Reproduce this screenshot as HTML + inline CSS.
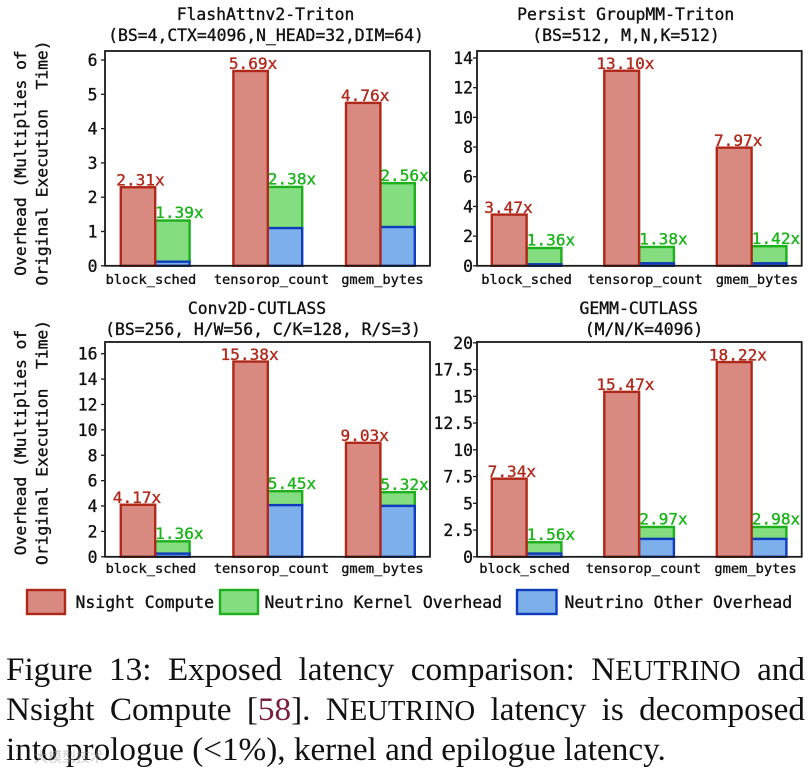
<!DOCTYPE html>
<html lang="en">
<head>
<meta charset="utf-8">
<title>Exposed latency comparison</title>
<style>
html,body{margin:0;padding:0;background:#fff;}
body{width:809px;height:772px;position:relative;overflow:hidden;}
svg{position:absolute;left:0;top:0;}
svg text{font-family:"DejaVu Sans Mono","Liberation Mono",monospace;white-space:pre;fill:#111;stroke:#111;stroke-width:.35px;}
.cap{position:absolute;left:6px;width:799px;font-family:"Liberation Serif",serif;font-size:33.2px;line-height:39px;color:#111;white-space:nowrap;}
.just{text-align:justify;text-align-last:justify;white-space:normal;}
.sc{font-size:28.6px;}
.ref{color:#7a1f3f;}
.wm{position:absolute;left:34px;top:746px;font-family:"Noto Sans CJK SC",sans-serif;font-size:14px;line-height:22px;color:rgba(150,150,150,.5);}
</style>
</head>
<body>
<svg id="chart" width="809" height="772" viewBox="0 0 809 772" xmlns="http://www.w3.org/2000/svg"></svg>
<div class="cap just" style="top:650px">Figure 13: Exposed latency comparison: N<span class="sc">EUTRINO</span> and</div>
<div class="cap just" style="top:690px">Nsight Compute [<span class="ref">58</span>]. N<span class="sc">EUTRINO</span> latency is decomposed</div>
<div class="cap" style="top:730px">into prologue (&lt;1%), kernel and epilogue latency.</div>
<div class="wm">大模型技术</div>
<script>
const categories = ['block_sched', 'tensorop_count', 'gmem_bytes'];

const flashNsight = [2.29, 5.68, 4.75];
const flashKernel = [1.20, 1.20, 1.28];
const flashOther = [0.12, 1.10, 1.13];
const flashNsightLabels = ['2.31x', '5.69x', '4.76x'];
const flashNeutrinoLabels = ['1.39x', '2.38x', '2.56x'];
const flashTicks = [0, 1, 2, 3, 4, 5, 6];
const flashTickLabels = ['0', '1', '2', '3', '4', '5', '6'];

const persistNsight = [3.45, 13.14, 7.96];
const persistKernel = [1.10, 1.10, 1.15];
const persistOther = [0.10, 0.17, 0.17];
const persistNsightLabels = ['3.47x', '13.10x', '7.97x'];
const persistNeutrinoLabels = ['1.36x', '1.38x', '1.42x'];
const persistTicks = [0, 2, 4, 6, 8, 10, 12, 14];
const persistTickLabels = ['0', '2', '4', '6', '8', '10', '12', '14'];

const convNsight = [4.10, 15.38, 8.98];
const convKernel = [0.97, 1.10, 1.08];
const convOther = [0.25, 4.07, 4.01];
const convNsightLabels = ['4.17x', '15.38x', '9.03x'];
const convNeutrinoLabels = ['1.36x', '5.45x', '5.32x'];
const convTicks = [0, 2, 4, 6, 8, 10, 12, 14, 16];
const convTickLabels = ['0', '2', '4', '6', '8', '10', '12', '14', '16'];

const gemmNsight = [7.30, 15.42, 18.20];
const gemmKernel = [1.06, 1.12, 1.12];
const gemmOther = [0.30, 1.67, 1.67];
const gemmNsightLabels = ['7.34x', '15.47x', '18.22x'];
const gemmNeutrinoLabels = ['1.56x', '2.97x', '2.98x'];
const gemmTicks = [0, 2.5, 5, 7.5, 10, 12.5, 15, 17.5, 20];
const gemmTickLabels = ['0', '2.5', '5', '7.5', '10', '12.5', '15', '17.5', '20'];

const legendLabels = ['Nsight Compute', 'Neutrino Kernel Overhead', 'Neutrino Other Overhead'];

const COLORS = {
  nsightFill: '#d98a80', nsightEdge: '#b0281a',
  kernelFill: '#84dd80', kernelEdge: '#1cb01c',
  otherFill: '#7db0ea', otherEdge: '#0f3cbc',
  nsightText: '#b0281a', kernelText: '#18b418'
};

const svg = document.getElementById('chart');
const NS = 'http://www.w3.org/2000/svg';
const EDGE = 2.4;

function mk(tag, attrs, parent) {
  const el = document.createElementNS(NS, tag);
  for (const k in attrs) el.setAttribute(k, attrs[k]);
  parent.appendChild(el);
  return el;
}

function drawPanel(p) {
  const g = mk('g', {}, svg);
  
  

  const yScale = v => p.y0 - (v / p.yMax) * (p.y0 - p.yTopTick);
  const xScale = i => p.firstBar + i * p.step;
  const bw = p.barWidth;

  // titles
  p.title.forEach((line, i) => {
    const t = mk('text', {x: p.titleX[i], y: p.titleY[i], 'text-anchor': 'middle', 'font-size': 16.4}, g);
    t.textContent = line;
    
    
  });

  // y axis title
  if (p.yTitle) {
    p.yTitle.forEach((line, i) => {
      const bx = p.yTitleX[i];
      const t = mk('text', {x: bx, y: p.yTitleY, 'text-anchor': 'middle', 'font-size': 16.3, transform: 'rotate(-90 ' + bx + ' ' + p.yTitleY + ')'}, g);
      t.textContent = line;
      
      
    });
  }

  // bars
  categories.forEach((c, i) => {
    const x = xScale(i);
    const total = p.kernel[i] + p.other[i];
    const k = mk('rect', {x: x + bw, y: yScale(total), width: bw, height: yScale(p.other[i]) - yScale(total), fill: COLORS.kernelFill, stroke: COLORS.kernelEdge, 'stroke-width': EDGE}, g);
    
    

    const o = mk('rect', {x: x + bw, y: yScale(p.other[i]), width: bw, height: yScale(0) - yScale(p.other[i]), fill: COLORS.otherFill, stroke: COLORS.otherEdge, 'stroke-width': EDGE}, g);
    
    

    const r = mk('rect', {x: x, y: yScale(p.nsight[i]), width: bw, height: yScale(0) - yScale(p.nsight[i]), fill: COLORS.nsightFill, stroke: COLORS.nsightEdge, 'stroke-width': EDGE}, g);
    
    

    const nl = mk('text', {x: x + bw / 2 + p.nsightShift[i], y: yScale(p.nsight[i]) - 1.8, 'text-anchor': 'middle', 'font-size': 16.1, style: 'fill:' + COLORS.nsightText + ';stroke:' + COLORS.nsightText}, g);
    nl.textContent = p.nsightLabels[i];
    
    

    const kl = mk('text', {x: x + bw * 1.5 + 7, y: yScale(total) - 2.3, 'text-anchor': 'middle', 'font-size': 16.1, style: 'fill:' + COLORS.kernelText + ';stroke:' + COLORS.kernelText}, g);
    kl.textContent = p.neutrinoLabels[i];
    
    

    const tl = mk('text', {x: x + bw + p.catShift[i], y: p.catY, 'text-anchor': 'middle', 'font-size': 13.7}, g);
    tl.textContent = c;
    
    
  });

  // frame
  const f = mk('rect', {x: p.left, y: p.top, width: p.right - p.left, height: p.bottom - p.top, fill: 'none', stroke: '#1a1a1a', 'stroke-width': 1.8}, g);
  
  

  // y ticks
  p.ticks.forEach((v, i) => {
    const y = yScale(v);
    const tk = mk('line', {x1: p.left - 4, x2: p.left, y1: y, y2: y, stroke: '#1a1a1a', 'stroke-width': 1.3}, g);
    
    
    const t = mk('text', {x: p.left - p.tickGap, y: y + 6, 'text-anchor': 'end', 'font-size': 16.4}, g);
    t.textContent = p.tickLabels[i];
    
    
  });
}

const yTitleLines = ['Overhead (Multiplies of', 'Original Execution  Time)'];

const panels = [
  {id: 'flashattn', nsight: flashNsight, kernel: flashKernel, other: flashOther,
   nsightLabels: flashNsightLabels, neutrinoLabels: flashNeutrinoLabels,
   ticks: flashTicks, tickLabels: flashTickLabels, yMax: 6, tickGap: 7.5,
   left: 105, right: 430, top: 51, bottom: 265.8, y0: 265.8, yTopTick: 60, catY: 284,
   firstBar: 120.8, step: 112.6, barWidth: 34.4,
   nsightShift: [2.5, 2.5, 2], catShift: [-4.3, 3.7, 2],
   title: ['FlashAttnv2-Triton', '(BS=4,CTX=4096,N_HEAD=32,DIM=64)'], titleX: [265.5, 266], titleY: [20, 41],
   yTitle: yTitleLines, yTitleX: [26, 47.5], yTitleY: 163},
  {id: 'persist', nsight: persistNsight, kernel: persistKernel, other: persistOther,
   nsightLabels: persistNsightLabels, neutrinoLabels: persistNeutrinoLabels,
   ticks: persistTicks, tickLabels: persistTickLabels, yMax: 14, tickGap: 4,
   left: 477, right: 801.7, top: 51, bottom: 265.8, y0: 265.8, yTopTick: 58, catY: 284,
   firstBar: 491.8, step: 112.5, barWidth: 34.8,
   nsightShift: [-0.7, 3.7, 4], catShift: [0, 6, 5.3],
   title: ['Persist GroupMM-Triton', '(BS=512, M,N,K=512)'], titleX: [625.7, 626], titleY: [20, 41]},
  {id: 'conv2d', nsight: convNsight, kernel: convKernel, other: convOther,
   nsightLabels: convNsightLabels, neutrinoLabels: convNeutrinoLabels,
   ticks: convTicks, tickLabels: convTickLabels, yMax: 16, tickGap: 7.5,
   left: 105, right: 430, top: 342, bottom: 556.8, y0: 556.8, yTopTick: 353.7, catY: 573,
   firstBar: 120.8, step: 112.6, barWidth: 34.4,
   nsightShift: [-1, -1, 1.5], catShift: [-4.3, 3.7, 2],
   title: ['Conv2D-CUTLASS', '(BS=256, H/W=56, C/K=128, R/S=3)'], titleX: [257, 263], titleY: [314, 335],
   yTitle: yTitleLines, yTitleX: [26, 47.5], yTitleY: 442.5},
  {id: 'gemm', nsight: gemmNsight, kernel: gemmKernel, other: gemmOther,
   nsightLabels: gemmNsightLabels, neutrinoLabels: gemmNeutrinoLabels,
   ticks: gemmTicks, tickLabels: gemmTickLabels, yMax: 20, tickGap: 4,
   left: 477, right: 801.7, top: 342, bottom: 556.8, y0: 556.8, yTopTick: 342.8, catY: 573,
   firstBar: 491.8, step: 112.5, barWidth: 34.8,
   nsightShift: [2.7, 3.7, 3.7], catShift: [-2, 4.3, 4],
   title: ['GEMM-CUTLASS', '(M/N/K=4096)'], titleX: [638.7, 644], titleY: [314, 335]}
];

panels.forEach(drawPanel);

// legend
const legend = mk('g', {}, svg);


const legendLayout = [
  {x: 27, w: 38, tx: 75.5, fill: COLORS.nsightFill, edge: COLORS.nsightEdge},
  {x: 220, w: 38, tx: 264.5, fill: COLORS.kernelFill, edge: COLORS.kernelEdge},
  {x: 517, w: 39.5, tx: 564.5, fill: COLORS.otherFill, edge: COLORS.otherEdge}
];
legendLabels.forEach((label, i) => {
  const l = legendLayout[i];
  const r = mk('rect', {x: l.x, y: 590, width: l.w, height: 24, fill: l.fill, stroke: l.edge, 'stroke-width': EDGE}, legend);
  
  
  const t = mk('text', {x: l.tx, y: 608, 'font-size': 16.45}, legend);
  t.textContent = label;
  
  
});
</script>
</body>
</html>
